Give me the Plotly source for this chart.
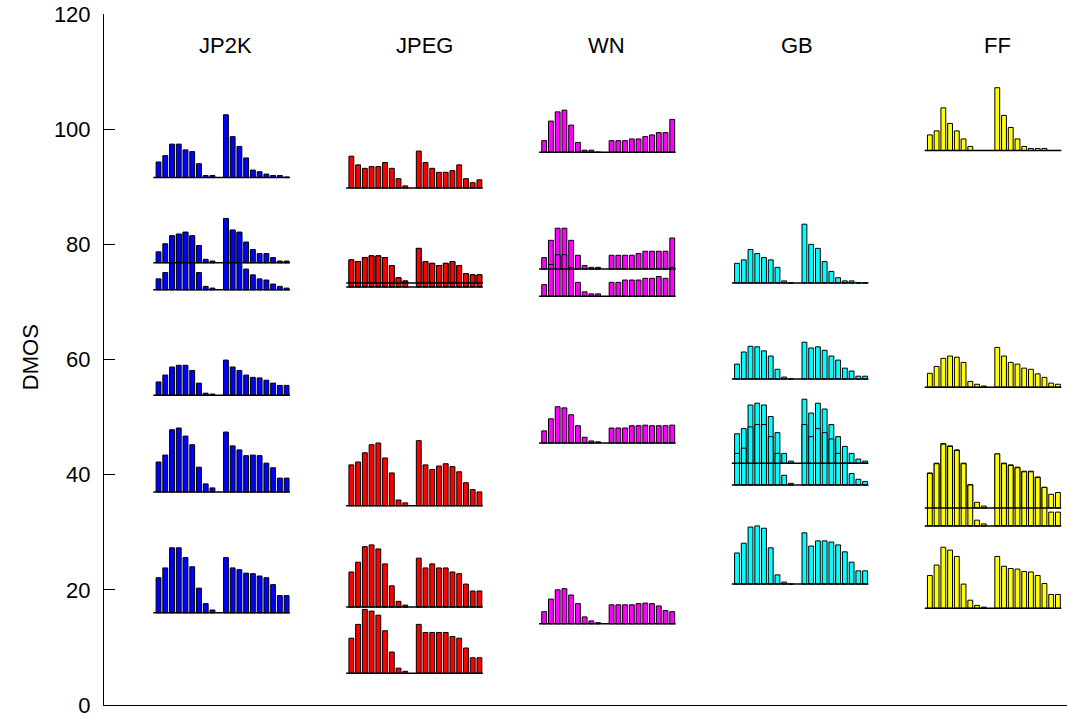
import plotly.graph_objects as go

groups = ["JP2K", "JPEG", "WN", "GB", "FF"]
colors = ["#0000FF", "#FF0000", "#FF00FF", "#00FFFF", "#FFFF00"]

# Baseline DMOS of every histogram glyph, per distortion type
jp2k_base = [91.6, 76.8, 72.1, 53.8, 37.0, 16.0]
jpeg_base = [89.8, 73.3, 72.6, 34.6, 17.0, 5.5]
wn_base = [96.0, 75.7, 71.0, 45.5, 14.1]
gb_base = [73.3, 56.6, 42.0, 38.2, 21.0]
ff_base = [96.3, 55.2, 34.2, 31.1, 16.8]

# Bar heights (DMOS units): 9 bars of the left histogram, then 10 of the right one
jp2k_bars = [
    [2.7, 3.8, 5.8, 5.8, 4.8, 4.5, 2.4, 0.35, 0.35, 10.9, 7.1, 5.4, 3.4, 1.3, 1.0, 0.6, 0.35, 0.35, 0.1],
    [1.9, 3.3, 4.6, 4.9, 5.3, 4.6, 3.0, 0.6, 0.3, 7.6, 5.6, 5.3, 3.6, 2.3, 1.6, 1.6, 0.9, 0.3, 0.3],
    [1.9, 3.0, 9.4, 9.7, 10.0, 9.4, 3.0, 0.6, 0.3, 12.4, 10.4, 10.0, 3.6, 2.6, 1.9, 1.7, 1.0, 0.6, 0.3],
    [2.3, 3.5, 4.9, 5.2, 5.2, 4.3, 2.1, 0.35, 0.2, 6.1, 4.9, 4.3, 3.5, 3.1, 3.0, 2.6, 2.1, 1.7, 1.7],
    [5.2, 6.4, 10.8, 11.1, 9.7, 8.2, 4.3, 1.4, 0.7, 10.4, 8.0, 7.3, 6.3, 6.4, 6.3, 5.0, 4.2, 2.4, 2.4],
    [6.1, 7.8, 11.3, 11.3, 9.6, 8.0, 4.3, 1.6, 0.5, 9.6, 7.8, 7.5, 6.9, 6.8, 6.4, 6.1, 4.9, 3.0, 3.0],
]
jpeg_bars = [
    [5.5, 4.0, 3.4, 3.7, 3.7, 4.4, 3.4, 1.6, 0.35, 6.4, 4.4, 3.4, 2.7, 2.7, 3.0, 4.0, 1.6, 0.9, 1.4],
    [4.0, 3.7, 4.4, 4.7, 4.7, 4.4, 3.0, 0.9, 0.35, 6.0, 3.7, 3.4, 3.0, 3.4, 3.7, 3.0, 1.6, 1.4, 1.4],
    [4.7, 4.4, 5.1, 5.4, 5.4, 5.1, 3.7, 1.6, 1.0, 6.7, 4.4, 4.1, 3.7, 4.1, 4.4, 3.7, 2.3, 2.1, 2.1],
    [7.1, 7.6, 9.2, 10.6, 10.9, 8.3, 5.7, 1.0, 0.5, 11.3, 7.1, 6.3, 6.9, 7.3, 6.8, 5.9, 4.0, 2.8, 2.4],
    [6.1, 7.8, 10.5, 10.8, 10.1, 7.5, 3.7, 1.0, 0.35, 8.5, 6.8, 7.5, 6.8, 6.8, 6.1, 5.8, 4.0, 2.8, 2.8],
    [6.1, 8.5, 11.1, 10.8, 10.1, 7.4, 3.7, 0.9, 0.35, 8.5, 7.1, 7.1, 7.1, 7.1, 6.4, 6.1, 4.4, 2.7, 2.7],
]
wn_bars = [
    [2.0, 5.4, 7.0, 7.3, 4.7, 1.7, 0.35, 0.35, 0.0, 2.0, 2.0, 2.0, 2.3, 2.3, 2.7, 3.0, 3.4, 3.4, 5.7],
    [2.0, 5.0, 7.1, 7.1, 5.0, 2.4, 0.6, 0.3, 0.3, 2.4, 2.4, 2.4, 2.4, 2.7, 3.1, 3.1, 3.1, 3.1, 5.4],
    [2.0, 5.5, 7.2, 7.2, 5.0, 2.4, 0.75, 0.4, 0.4, 2.4, 2.4, 2.8, 2.8, 2.8, 3.1, 3.1, 3.4, 3.1, 5.0],
    [2.1, 4.2, 6.3, 6.1, 4.9, 3.0, 1.0, 0.35, 0.2, 2.6, 2.6, 2.6, 3.0, 3.0, 3.1, 3.0, 3.0, 3.0, 3.1],
    [2.1, 4.3, 5.9, 6.1, 5.0, 3.5, 1.2, 0.5, 0.2, 3.3, 3.3, 3.3, 3.3, 3.5, 3.6, 3.5, 3.1, 2.3, 2.1],
]
gb_bars = [
    [3.4, 4.0, 5.8, 5.1, 4.4, 4.0, 2.7, 0.35, 0.0, 10.2, 6.7, 6.0, 3.7, 2.0, 0.9, 0.35, 0.35, 0.0, 0.0],
    [2.6, 4.7, 5.7, 5.6, 4.9, 4.0, 1.7, 0.35, 0.0, 6.4, 5.4, 5.6, 5.0, 4.0, 3.3, 1.9, 1.4, 0.5, 0.5],
    [5.1, 6.0, 10.1, 10.4, 10.1, 8.1, 5.3, 1.7, 0.35, 11.1, 8.7, 10.4, 9.4, 6.7, 4.6, 2.9, 1.7, 0.7, 0.35],
    [5.5, 6.4, 10.1, 10.5, 10.5, 8.4, 5.5, 1.7, 0.3, 10.5, 8.4, 9.8, 9.1, 8.0, 5.5, 3.8, 2.0, 1.0, 0.6],
    [5.4, 7.1, 9.9, 10.1, 9.7, 6.3, 1.6, 0.35, 0.0, 8.9, 6.6, 7.5, 7.5, 7.3, 6.8, 5.6, 3.8, 2.3, 2.3],
]
ff_bars = [
    [2.7, 3.4, 7.4, 4.7, 3.4, 2.0, 0.7, 0.0, 0.0, 10.9, 6.1, 4.0, 2.0, 0.7, 0.35, 0.35, 0.35, 0.0, 0.0],
    [2.4, 3.6, 5.0, 5.4, 5.2, 4.3, 1.0, 0.5, 0.2, 6.9, 5.4, 4.3, 4.0, 3.3, 3.1, 2.3, 1.7, 0.7, 0.5],
    [6.1, 7.8, 11.2, 10.8, 10.1, 7.8, 4.1, 1.0, 0.35, 9.4, 7.8, 7.5, 7.1, 6.4, 6.4, 5.4, 3.6, 2.4, 2.7],
    [9.1, 10.8, 14.2, 13.8, 13.1, 10.8, 7.1, 1.0, 0.35, 12.5, 10.8, 10.5, 10.1, 9.4, 9.4, 8.4, 6.7, 2.4, 2.4],
    [5.7, 7.5, 10.6, 10.1, 9.0, 4.2, 1.4, 0.5, 0.2, 9.0, 7.3, 6.9, 6.8, 6.4, 6.3, 5.7, 4.3, 2.4, 2.4],
]

y_ticks = [0, 20, 40, 60, 80, 100, 120]
y_title = "DMOS"

all_bases = [jp2k_base, jpeg_base, wn_base, gb_base, ff_base]
all_bars = [jp2k_bars, jpeg_bars, wn_bars, gb_bars, ff_bars]

# ---- layout geometry (x axis in "bar slot" units) ----
W, H = 1067, 719
ML, MR, MT, MB = 104, 0, 14, 14
slot_px = 6.74
x_max = (W - ML - MR) / slot_px
col_first = 8.09
col_step = 28.61
label_slot = [18.1, 47.5, 74.6, 102.8, 132.6]
slots = list(range(9)) + list(range(10, 20))

fig = go.Figure()

line_x, line_y = [], []
for c, (bases, bars) in enumerate(zip(all_bases, all_bars)):
    x0 = col_first + c * col_step
    xs = [x0 + s for s in slots]
    for base, heights in zip(bases, bars):
        fig.add_trace(go.Bar(
            x=xs, y=heights, base=base, width=0.72,
            marker=dict(color=colors[c], line=dict(color="black", width=1)),
            showlegend=False, hoverinfo="skip",
        ))
        line_x += [x0 - 0.77, x0 + 19.5, None]
        line_y += [base, base, None]

fig.add_trace(go.Scatter(x=line_x, y=line_y, mode="lines",
                         line=dict(color="black", width=1.5),
                         showlegend=False, hoverinfo="skip"))

for c, name in enumerate(groups):
    fig.add_annotation(x=label_slot[c], y=114.6, text=name,
                       showarrow=False, xanchor="center", yanchor="middle",
                       font=dict(family="Liberation Sans, Arial", size=22, color="black"))

fig.add_annotation(xref="paper", yref="y", x=-74 / (W - ML - MR), y=60.4,
                   text=y_title, textangle=-90, showarrow=False,
                   xanchor="center", yanchor="middle",
                   font=dict(family="Liberation Sans, Arial", size=22, color="black"))

fig.update_layout(
    width=W, height=H,
    margin=dict(l=ML, r=MR, t=MT, b=MB),
    paper_bgcolor="white", plot_bgcolor="white",
    barmode="overlay", bargap=0,
    font=dict(family="Liberation Sans, Arial", size=22, color="black"),
    xaxis=dict(range=[0, x_max], showgrid=False, zeroline=False,
               showticklabels=False, ticks="", showline=True,
               linecolor="black", linewidth=1),
    yaxis=dict(range=[0, 120], tickvals=y_ticks, showgrid=False, zeroline=False,
               ticks="inside", ticklen=11, tickwidth=1, tickcolor="black",
               showline=True, linecolor="black", linewidth=1,
               ticklabelstandoff=8),
)

# remove the default 8px page margin so the figure sits at the window's corner
fig.write_html("out.html",
               config={"displayModeBar": False, "staticPlot": True},
               post_script="document.body.style.margin='0';document.body.style.overflow='hidden';")
